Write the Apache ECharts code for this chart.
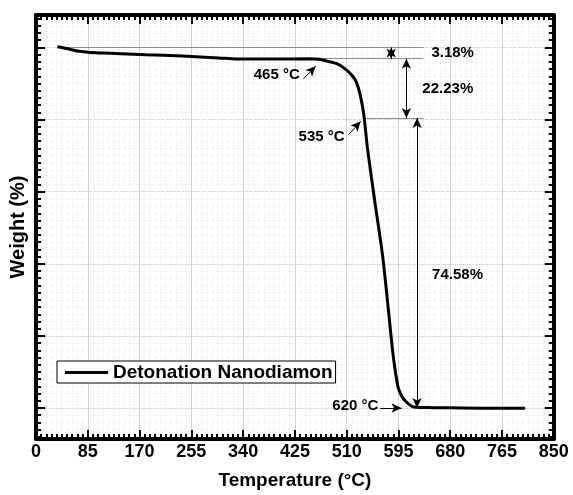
<!DOCTYPE html>
<html><head><meta charset="utf-8">
<script src="https://cdn.jsdelivr.net/npm/echarts@6/dist/echarts.min.js"></script>
<style>html,body{margin:0;padding:0;background:#fff}#c{width:573px;height:495px}</style>
</head><body><div id="c"></div>
<script>
// ---- data ----
const temperature = [35, 50, 68, 90, 121, 180, 240, 300, 329, 389, 449, 465, 478, 494, 508, 519, 526, 532, 538, 544, 556, 569, 578, 586, 594, 600, 606, 614, 620, 650, 700, 760, 803];
const weight      = [100.2, 99.7, 99.0, 98.6, 98.4, 98.0, 97.6, 97.1, 96.8, 96.8, 96.85, 96.7, 96.2, 95.5, 94.0, 92.2, 90.3, 87.0, 81.5, 72.2, 57.5, 42.2, 28.0, 15.0, 6.0, 3.4, 2.0, 0.8, 0.3, 0.1, 0.0, -0.1, -0.1];
const seriesName = 'Detonation Nanodiamon';
const xTicks = [0, 85, 170, 255, 340, 425, 510, 595, 680, 765, 850];
const yMajor = [0, 20, 40, 60, 80, 100];
const yMinor = []; for (let v = -8; v <= 108; v += 2) yMinor.push(v);

// annotation lines in data coordinates: [T1, W1, T2, W2, startSymbol, endSymbol]
const refLines = [
  [35, 100, 636, 100, 'none', 'none'],
  [465, 96.9, 636, 96.9, 'none', 'none'],
  [537, 80.4, 636, 80.4, 'none', 'none']
];
const arrowLines = [
  [583, 100, 583, 96.9, 'arrow', 'arrow'],
  [608, 96.9, 608, 80.4, 'arrow', 'arrow'],
  [625.5, 80.4, 625.5, 0, 'arrow', 'arrow'],
  [439, 91.3, 459, 94.8, 'none', 'arrow'],
  [513, 75.8, 533, 79.5, 'none', 'arrow'],
  [565, 0, 600, 0, 'none', 'arrow']
];
// text annotations: [text, T, W, align]
const notes = [
  ['3.18%', 684, 98.6, 'center'],
  ['22.23%', 676, 88.6, 'center'],
  ['74.58%', 692, 36.8, 'center'],
  ['465 °C', 357.5, 92.4, 'left'],
  ['535 °C', 431, 75.2, 'left'],
  ['620 °C', 562, 0.5, 'right']
];

// ---- chart ----
const FONT = "'Liberation Sans', Arial, sans-serif";
const Y_MIN = -8.6, Y_MAX = 109;
const chart = echarts.init(document.getElementById('c'), null, {renderer: 'canvas'});

function xAxisDef(pos, withLabels) {
  return {
    type: 'value', position: pos, min: xTicks[0], max: xTicks[xTicks.length - 1], interval: xTicks[1] - xTicks[0],
    axisLine: {show: true, onZero: false, lineStyle: {color: '#000', width: 4}},
    axisTick: {show: true, inside: true, length: 9, lineStyle: {color: '#000', width: 2}},
    minorTick: {show: true, splitNumber: 10, length: 5, lineStyle: {color: '#000', width: 2}},
    splitLine: {show: withLabels, lineStyle: {color: '#d2d2d2', width: 1}},
    minorSplitLine: {show: withLabels, lineStyle: {color: '#ececec', width: 1, type: 'dotted'}},
    axisLabel: {show: withLabels, fontSize: 18, fontWeight: 'bold', color: '#000', margin: 4,
                fontFamily: FONT, showMinLabel: true, showMaxLabel: true},
    name: withLabels ? 'Temperature (°C)' : '',
    nameLocation: 'middle', nameGap: 32,
    nameTextStyle: {fontSize: 19, fontWeight: 'bold', color: '#000', fontFamily: FONT}
  };
}
function yAxisDef(pos, major) {
  return {
    type: 'value', position: pos, min: Y_MIN, max: Y_MAX,
    axisLine: {show: major, onZero: false, lineStyle: {color: '#000', width: 4}},
    axisTick: {show: true, inside: true, length: major ? 9 : 5,
               customValues: major ? yMajor : yMinor, lineStyle: {color: '#000', width: 2}},
    axisLabel: {show: false},
    splitLine: {show: pos === 'left',
                lineStyle: major ? {color: '#d2d2d2', width: 1} : {color: '#ececec', width: 1, type: 'dotted'}},
    name: (pos === 'left' && major) ? 'Weight (%)' : '',
    nameLocation: 'middle', nameGap: 8, nameRotate: 90,
    nameTextStyle: {fontSize: 20, fontWeight: 'bold', color: '#000', fontFamily: FONT}
  };
}

function mlData(arr) {
  return arr.map(a => [
    {coord: [a[0], a[1]], symbol: a[4]},
    {coord: [a[2], a[3]], symbol: a[5]}
  ]);
}

const option = {
  animation: false,
  backgroundColor: '#fff',
  grid: {left: 34.7, right: 19.2, top: 15, bottom: 48.5, containLabel: false},
  xAxis: [xAxisDef('bottom', true), xAxisDef('top', false)],
  yAxis: [yAxisDef('left', true), yAxisDef('left', false), yAxisDef('right', true), yAxisDef('right', false)],
  legend: {
    left: 57, top: 361, orient: 'horizontal', padding: [2, 3, 1, 8],
    borderColor: '#000', borderWidth: 1, backgroundColor: '#fff',
    itemWidth: 43, itemHeight: 3, icon: 'rect', itemGap: 8,
    textStyle: {fontSize: 19, fontWeight: 'bold', fontFamily: FONT, color: '#000'},
    data: [seriesName]
  },
  series: [
    {
      name: seriesName, type: 'line', xAxisIndex: 0, yAxisIndex: 0,
      data: temperature.map((t, i) => [t, weight[i]]),
      symbol: 'none', smooth: 0.25,
      lineStyle: {color: '#000', width: 3}, itemStyle: {color: '#000'},
      z: 5
    },
    {
      name: 'refs', type: 'line', xAxisIndex: 0, yAxisIndex: 0, data: [],
      markLine: {silent: true, animation: false, symbolSize: [7, 10],
                 label: {show: false}, lineStyle: {color: '#8a8a8a', width: 1, type: 'solid'},
                 data: mlData(refLines)}
    },
    {
      name: 'arrows', type: 'line', xAxisIndex: 0, yAxisIndex: 0, data: [],
      markLine: {silent: true, animation: false, symbolSize: [7, 10],
                 label: {show: false}, lineStyle: {color: '#000', width: 1, type: 'solid'},
                 data: mlData(arrowLines)}
    }
  ]
};
chart.setOption(option);

const graphics = notes.map(n => {
  const p = chart.convertToPixel({xAxisIndex: 0, yAxisIndex: 0}, [n[1], n[2]]);
  return {
    type: 'text', x: p[0], y: p[1], z: 10,
    style: {text: n[0], font: 'bold 15px ' + FONT, fill: '#000', align: n[3], verticalAlign: 'middle'}
  };
});
chart.setOption({graphic: graphics});
</script>
</body></html>
